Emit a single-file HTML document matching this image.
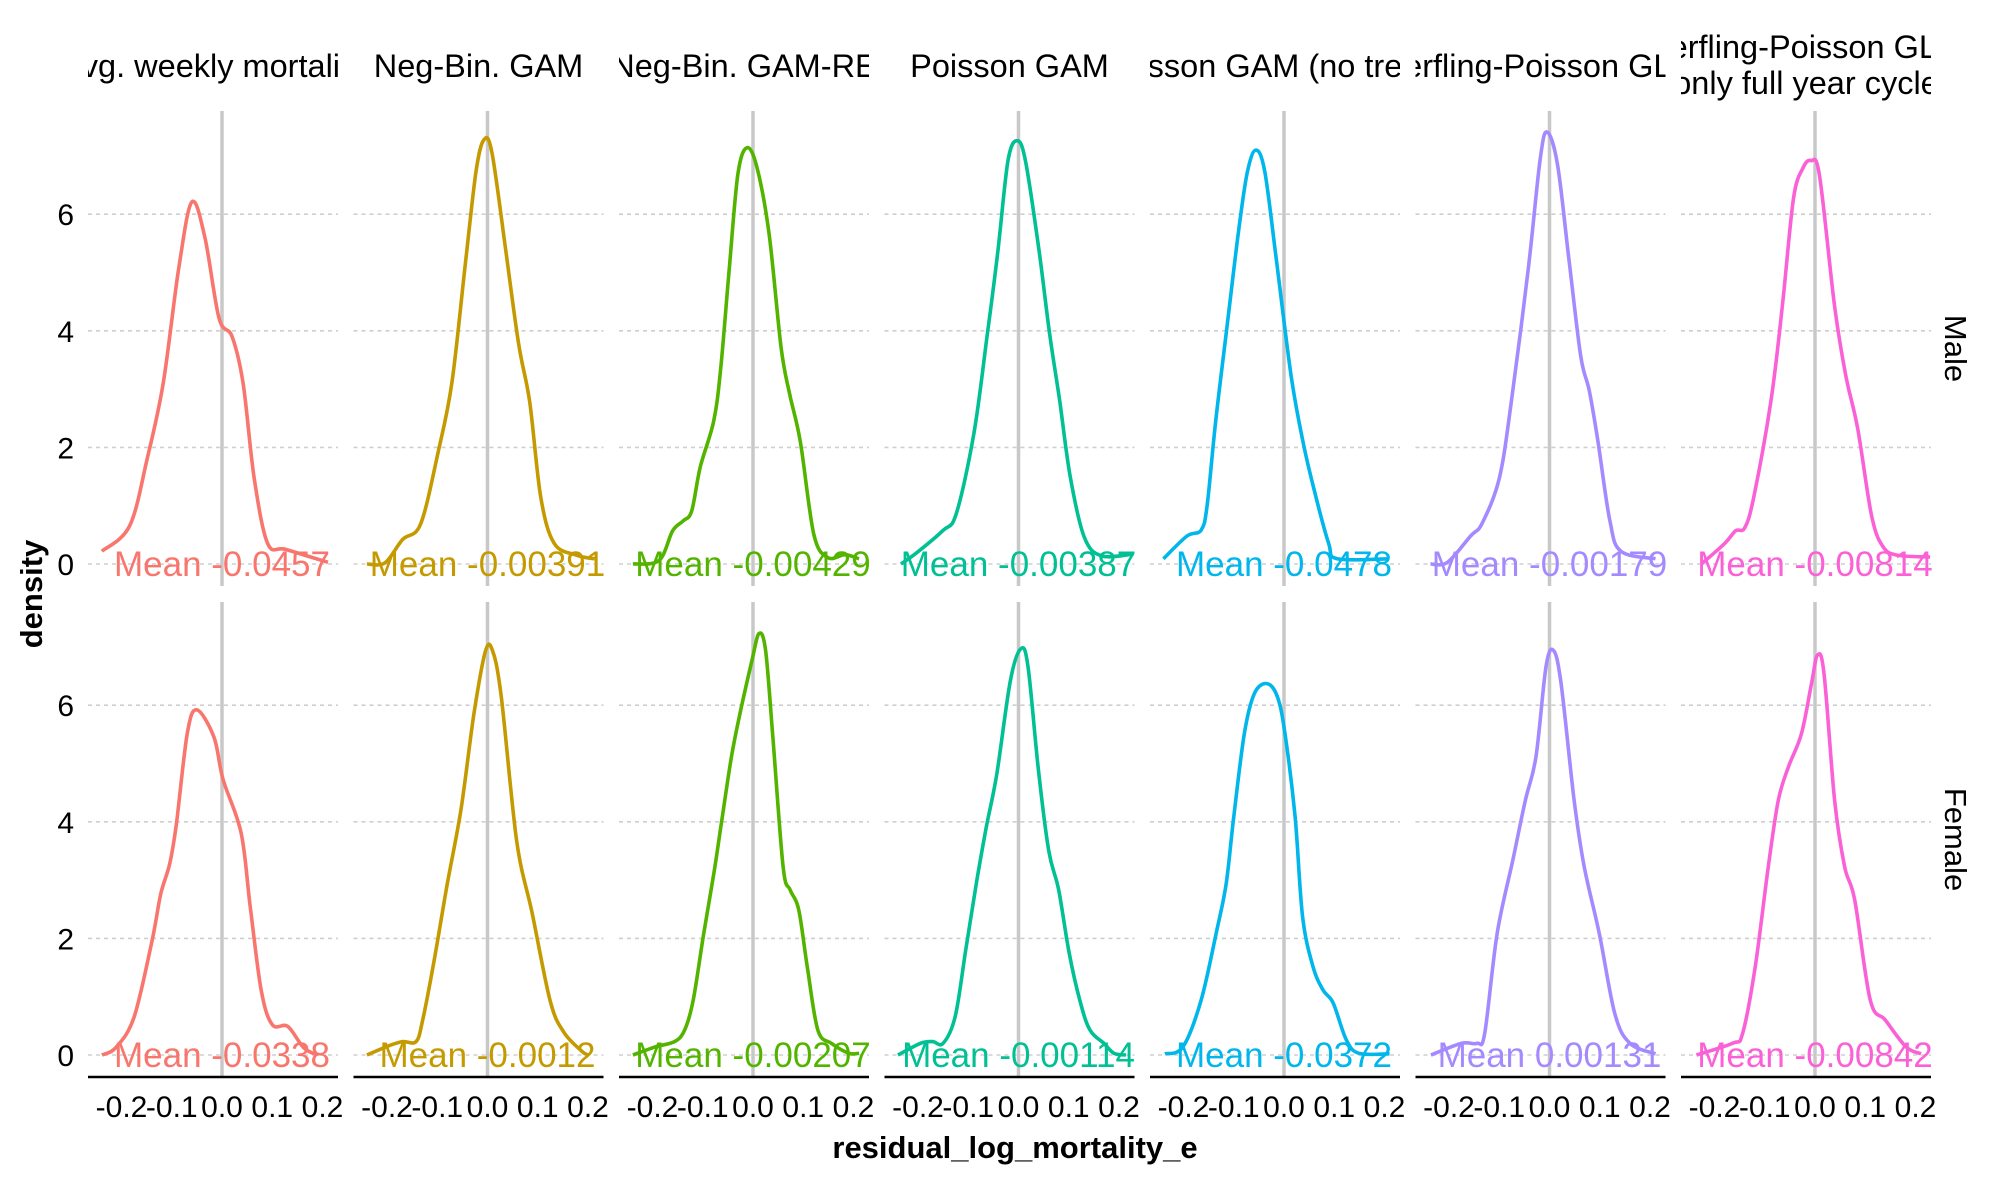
<!DOCTYPE html>
<html><head><meta charset="utf-8"><style>
html,body{margin:0;padding:0;background:#fff;}
svg{display:block;font-family:"Liberation Sans",Arial,sans-serif;}
</style></head><body>
<svg id="chart" width="2007" height="1181" viewBox="0 0 2007 1181" xmlns="http://www.w3.org/2000/svg"></svg>
<script>
const models = ["Avg. weekly mortality", "Neg-Bin. GAM", "Neg-Bin. GAM-RE", "Poisson GAM", "Poisson GAM (no trend)", "Serfling-Poisson GLM", "Serfling-Poisson GLM|only full year cycle"];
const sexes = ["Male", "Female"];
const colors = ["#F8766D", "#C49A00", "#53B400", "#00C094", "#00B6EB", "#A58AFF", "#FB61D7"];
const xTicks = [-0.2, -0.1, 0.0, 0.1, 0.2];
const xTickLabels = ["-0.2", "-0.1", "0.0", "0.1", "0.2"];
const yTicks = [0, 2, 4, 6];
const meanLabels = [
  ["-0.0457", "-0.00391", "-0.00429", "-0.00387", "-0.0478", "-0.00179", "-0.00814"],
  ["-0.0338", "-0.0012", "-0.00207", "-0.00114", "-0.0372", "0.00131", "-0.00842"]
];
const maleX = [
  [-0.239,-0.184,-0.149,-0.117,-0.086,-0.060,-0.034,-0.006,0.020,0.042,0.064,0.091,0.127,0.211],
  [-0.240,-0.204,-0.169,-0.133,-0.098,-0.071,-0.045,-0.023,-0.007,0.009,0.036,0.062,0.084,0.106,0.133,0.178,0.213],
  [-0.239,-0.187,-0.160,-0.139,-0.122,-0.105,-0.078,-0.064,-0.047,-0.030,-0.012,0.008,0.032,0.056,0.073,0.094,0.121,0.149,0.183,0.211],
  [-0.234,-0.206,-0.151,-0.124,-0.089,-0.062,-0.041,-0.021,-0.003,0.014,0.041,0.062,0.082,0.103,0.131,0.165,0.228],
  [-0.240,-0.193,-0.165,-0.153,-0.136,-0.113,-0.090,-0.073,-0.056,-0.038,-0.015,0.014,0.037,0.060,0.089,0.106,0.209],
  [-0.237,-0.203,-0.157,-0.134,-0.100,-0.076,-0.042,-0.019,-0.005,0.016,0.039,0.062,0.079,0.096,0.120,0.142,0.211],
  [-0.226,-0.180,-0.158,-0.140,-0.122,-0.088,-0.065,-0.043,-0.024,-0.008,0.009,0.039,0.061,0.085,0.113,0.136,0.165,0.229]
];
const maleY = [
  [0.22,0.65,1.8,3.1,5.08,6.21,5.6,4.22,3.9,3.1,1.47,0.35,0.25,0.03],
  [0,0.02,0.42,0.69,1.93,3.1,5.08,6.72,7.28,7.05,5.4,3.77,2.78,1.14,0.35,0.15,0.09],
  [0,0.06,0.57,0.74,0.91,1.66,2.46,3.37,5.09,6.69,7.14,6.8,5.66,3.71,2.91,2.11,0.51,0.11,0.16,0.09],
  [0,0.17,0.57,0.86,2.23,3.94,5.37,6.91,7.26,6.91,5.37,3.94,2.8,1.49,0.46,0.14,0.17],
  [0.09,0.48,0.58,1.0,2.45,4.1,5.74,6.72,7.1,6.72,5.2,3.24,2.13,1.27,0.35,0.09,0.09],
  [0,0.03,0.48,0.7,1.47,2.78,5.08,6.92,7.41,6.85,5.2,3.57,2.98,2.13,0.75,0.22,0.09],
  [0,0.35,0.57,0.62,1.14,2.78,4.42,6.26,6.79,6.92,6.66,4.42,3.24,2.32,0.81,0.29,0.15,0.12]
];
const femaleX = [
  [-0.239,-0.211,-0.175,-0.139,-0.122,-0.104,-0.091,-0.069,-0.050,-0.016,0.002,0.038,0.056,0.078,0.100,0.131,0.162,0.189],
  [-0.240,-0.196,-0.169,-0.142,-0.129,-0.107,-0.081,-0.053,-0.027,-0.005,0.009,0.027,0.058,0.089,0.125,0.152,0.187,0.200],
  [-0.239,-0.194,-0.156,-0.136,-0.119,-0.098,-0.078,-0.064,-0.043,-0.023,-0.002,0.012,0.025,0.039,0.060,0.074,0.091,0.108,0.129,0.156,0.191,0.211],
  [-0.240,-0.195,-0.171,-0.150,-0.126,-0.105,-0.084,-0.064,-0.043,-0.016,0.005,0.019,0.039,0.060,0.080,0.101,0.122,0.142,0.170,0.190,0.214],
  [-0.237,-0.201,-0.165,-0.135,-0.115,-0.100,-0.079,-0.059,-0.034,-0.013,0.002,0.022,0.037,0.058,0.078,0.098,0.124,0.149,0.210],
  [-0.236,-0.175,-0.144,-0.129,-0.104,-0.073,-0.048,-0.027,-0.007,0.008,0.023,0.049,0.069,0.099,0.130,0.160,0.211],
  [-0.236,-0.164,-0.144,-0.119,-0.093,-0.073,-0.053,-0.027,-0.007,0.005,0.018,0.039,0.059,0.079,0.110,0.140,0.181,0.211]
];
const femaleY = [
  [0,0.13,0.65,1.97,2.76,3.28,3.95,5.52,5.92,5.45,4.73,3.81,2.56,1.11,0.52,0.49,0.13,0],
  [0,0.16,0.23,0.23,0.6,1.58,2.89,4.2,5.85,6.9,6.96,6.17,3.68,2.43,0.92,0.39,0.07,0],
  [0,0.14,0.23,0.43,0.94,2.09,3.11,3.91,5.11,5.97,6.77,7.23,6.94,5.51,3.23,2.83,2.49,1.51,0.43,0.2,0.03,0.03],
  [0,0.2,0.23,0.2,0.66,1.8,2.94,3.91,4.83,6.43,6.97,6.66,4.94,3.51,2.83,1.74,0.94,0.43,0.2,0.03,0],
  [0.02,0.14,0.94,2.09,2.94,4.09,5.51,6.2,6.37,6.14,5.51,4.09,2.37,1.51,1.11,0.89,0.26,0.03,0.02],
  [0,0.2,0.2,0.37,2.09,3.34,4.37,5.11,6.66,6.94,6.37,4.37,3.23,2.09,0.71,0.2,0.02],
  [0,0.2,0.37,1.51,3.23,4.37,4.94,5.51,6.37,6.86,6.54,4.37,3.23,2.66,0.94,0.6,0.14,0.02]
];
const curvesX = [maleX, femaleX];
const curvesY = [maleY, femaleY];

const NS = "http://www.w3.org/2000/svg";
const svg = document.getElementById("chart");
const panelLeft0 = 88, panelW = 250, panelStep = 265.5;
const rowTop = [111, 602], panelH = 475;
const zeroOffset = 22, pxPerY = 58.3;
const x0Offset = 134, pxPerX = 502.5;

function xScale(p, v) { return panelLeft0 + p * panelStep + x0Offset + v * pxPerX; }
function yScale(r, v) { return rowTop[r] + panelH - zeroOffset - v * pxPerY; }
function mk(tag, attrs, parent) {
  const el = document.createElementNS(NS, tag);
  for (const k in attrs) el.setAttribute(k, attrs[k]);
  (parent || svg).appendChild(el);
  return el;
}
function smoothPath(pts) {
  let d = "M" + pts[0][0].toFixed(1) + "," + pts[0][1].toFixed(1);
  for (let i = 0; i < pts.length - 1; i++) {
    const p0 = pts[i - 1] || pts[i], p1 = pts[i], p2 = pts[i + 1], p3 = pts[i + 2] || p2;
    const c1x = p1[0] + (p2[0] - p0[0]) / 6, c1y = p1[1] + (p2[1] - p0[1]) / 6;
    const c2x = p2[0] - (p3[0] - p1[0]) / 6, c2y = p2[1] - (p3[1] - p1[1]) / 6;
    d += " C" + c1x.toFixed(1) + "," + c1y.toFixed(1) + " " + c2x.toFixed(1) + "," + c2y.toFixed(1) + " " + p2[0].toFixed(1) + "," + p2[1].toFixed(1);
  }
  return d;
}

const defs = mk("defs", {});
for (let p = 0; p < models.length; p++) {
  const cp = mk("clipPath", { id: "clip" + p }, defs);
  mk("rect", { x: panelLeft0 + p * panelStep, y: 0, width: panelW, height: 110 }, cp);
}

for (let r = 0; r < 2; r++) {
  for (let p = 0; p < models.length; p++) {
    const g = mk("g", {});
    
    
    const left = panelLeft0 + p * panelStep;
    yTicks.forEach(t => {
      const gl = mk("line", { x1: left, x2: left + panelW, y1: yScale(r, t), y2: yScale(r, t), stroke: "#cfcfcf", "stroke-width": 1.6, "stroke-dasharray": "4,4" }, g);
      
      
    });
    const vl = mk("line", { x1: xScale(p, 0), x2: xScale(p, 0), y1: rowTop[r], y2: rowTop[r] + panelH, stroke: "#c8c8c8", "stroke-width": 3.5 }, g);
    
    
    const xs = curvesX[r][p], ys = curvesY[r][p];
    const pts = xs.map((v, i) => [xScale(p, v), yScale(r, ys[i])]);
    const path = mk("path", { d: smoothPath(pts), fill: "none", stroke: colors[p], "stroke-width": 3.6, "stroke-linejoin": "round" }, g);
    
    
    const mt = mk("text", { x: xScale(p, 0), y: yScale(r, 0) + 12, fill: colors[p], "font-size": 35, "text-anchor": "middle" }, g);
    mt.textContent = "Mean " + meanLabels[r][p];
    
    
    if (r === 1) {
      const ax = mk("line", { x1: left, x2: left + panelW, y1: rowTop[r] + panelH, y2: rowTop[r] + panelH, stroke: "#000", "stroke-width": 2.5 }, g);
      
      
      xTicks.forEach((t, i) => {
        const tl = mk("text", { x: xScale(p, t), y: 1117, "font-size": 30, "text-anchor": "middle", fill: "#000" }, g);
        tl.textContent = xTickLabels[i];
        
        
      });
    }
    if (r === 0) {
      const lines = models[p].split("|");
      const st = mk("text", { x: left + panelW / 2, y: lines.length > 1 ? 58 : 77, "font-size": 32.5, "text-anchor": "middle", fill: "#000", "clip-path": "url(#clip" + p + ")" }, g);
      lines.forEach((ln, i) => {
        const ts = mk("tspan", { x: left + panelW / 2, dy: i === 0 ? 0 : 36 }, st);
        ts.textContent = ln;
      });
      
      
    }
  }
  yTicks.forEach(t => {
    const yl = mk("text", { x: 74, y: yScale(r, t) + 11, "font-size": 30, "text-anchor": "end", fill: "#000" });
    yl.textContent = String(t);
    
    
  });
  const cy = rowTop[r] + panelH / 2;
  const sl = mk("text", { x: 0, y: 0, "font-size": 31, "text-anchor": "middle", fill: "#000", transform: "translate(1956," + cy + ") rotate(90) translate(0,11)" });
  sl.textContent = sexes[r];
  
  
}
const xt = mk("text", { x: 1015, y: 1158, "font-size": 31, "font-weight": "bold", "text-anchor": "middle", fill: "#000" });
xt.textContent = "residual_log_mortality_e";


const yt = mk("text", { x: 0, y: 0, "font-size": 31, "font-weight": "bold", "text-anchor": "middle", fill: "#000", transform: "translate(42,594) rotate(-90)" });
yt.textContent = "density";


</script>
</body></html>
